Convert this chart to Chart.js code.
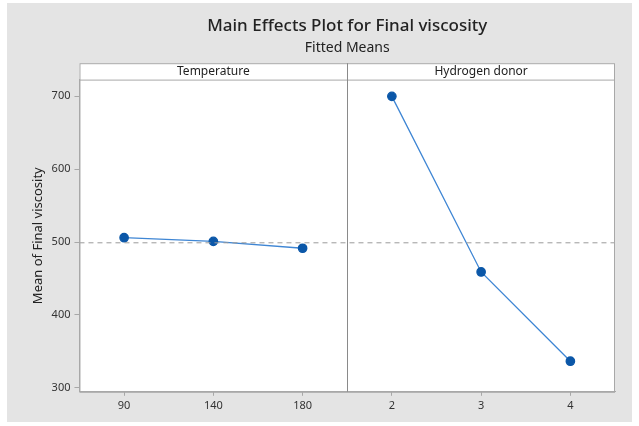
<!DOCTYPE html>
<html>
<head>
<meta charset="utf-8">
<script src="https://cdn.jsdelivr.net/npm/chart.js@4.4.1/dist/chart.umd.min.js"></script>
<style>
  html, body { margin: 0; padding: 0; background: #fff; }
  #wrap { position: relative; width: 639px; height: 426px; }
</style>
</head>
<body>
<div id="wrap"><canvas id="myChart" width="639" height="426"></canvas></div>
<script>
// data
const categories = ['90', '140', '180', '2', '3', '4'];
const factors = ['Temperature', 'Hydrogen donor'];
const temperatureMeans = [506, 501, 491.5, null, null, null];
const donorMeans = [null, null, null, 700, 459, 336.5];
const grandMean = 499;
const yTicks = [300, 400, 500, 600, 700];

const FONT = "'Noto Sans', 'Open Sans', sans-serif";
const LINE = '#3f86d4';
const DOT = '#0b57a8';

// gray panel, frame, header strip, divider and reference line
const minitabLook = {
    id: 'minitabLook',
    beforeDraw(chart) {
        const ctx = chart.ctx;
        ctx.save();
        ctx.fillStyle = '#fff';
        ctx.fillRect(0, 0, chart.width, chart.height);
        ctx.fillStyle = '#e4e4e4';
        ctx.fillRect(7, 3, chart.width - 14, chart.height - 7);
        const a = chart.chartArea;
        const top = chart.scales.x2;
        ctx.fillStyle = '#fff';
        ctx.fillRect(a.left, top.top, a.right - a.left, a.bottom - top.top);
        ctx.restore();
    },
    afterDatasetsDraw(chart) {
        const ctx = chart.ctx;
        const a = chart.chartArea;
        const x = chart.scales.x;
        const y = chart.scales.y;
        const top = chart.scales.x2;
        ctx.save();
        // mean line
        const ym = y.getPixelForValue(grandMean);
        ctx.strokeStyle = '#9a9a9a';
        ctx.lineWidth = 1;
        ctx.setLineDash([5, 4]);
        ctx.beginPath();
        ctx.moveTo(a.left, ym);
        ctx.lineTo(a.right, ym);
        ctx.stroke();
        ctx.setLineDash([]);
        // frame
        ctx.strokeStyle = '#a8a8a8';
        ctx.strokeRect(a.left + 0.5, top.top + 0.5, a.right - a.left - 1, a.bottom - top.top);
        ctx.beginPath();
        ctx.moveTo(a.left, a.top + 0.5);
        ctx.lineTo(a.right, a.top + 0.5);
        ctx.stroke();
        // panel divider
        const xd = Math.round((x.getPixelForValue(2) + x.getPixelForValue(3)) / 2) + 0.5;
        ctx.strokeStyle = '#8a8a8a';
        ctx.beginPath();
        ctx.moveTo(xd, top.top);
        ctx.lineTo(xd, a.bottom);
        ctx.stroke();
        ctx.restore();
    }
};

const ctx = document.getElementById('myChart').getContext('2d');
new Chart(ctx, {
    type: 'line',
    data: {
        labels: categories,
        datasets: [{
            label: factors[0],
            data: temperatureMeans,
            borderColor: LINE,
            borderWidth: 1.3,
            pointBackgroundColor: DOT,
            pointBorderColor: DOT,
            pointRadius: 4.2,
            spanGaps: false
        }, {
            label: factors[1],
            data: donorMeans,
            borderColor: LINE,
            borderWidth: 1.3,
            pointBackgroundColor: DOT,
            pointBorderColor: DOT,
            pointRadius: 4.2,
            spanGaps: false
        }]
    },
    options: {
        responsive: false,
        animation: false,
        layout: { padding: { left: 30, right: 24, top: 0, bottom: 11 } },
        plugins: {
            legend: { display: false },
            tooltip: { enabled: false },
            title: {
                display: true,
                fullSize: false,
                text: 'Main Effects Plot for Final viscosity',
                color: '#222',
                font: { family: FONT, size: 17, weight: '500' },
                padding: { top: 16, bottom: 2 }
            },
            subtitle: {
                display: true,
                fullSize: false,
                text: 'Fitted Means',
                color: '#222',
                font: { family: FONT, size: 14 },
                padding: { top: 1, bottom: 7 }
            }
        },
        scales: {
            x: {
                type: 'category',
                offset: true,
                grid: { drawOnChartArea: false, tickLength: 4, color: '#a8a8a8' },
                border: { color: '#a8a8a8' },
                ticks: { color: '#333', font: { family: FONT, size: 11 }, padding: 3 }
            },
            x2: {
                type: 'category',
                position: 'top',
                labels: factors,
                offset: true,
                grid: { display: false, drawTicks: false },
                border: { display: false },
                ticks: { color: '#222', font: { family: FONT, size: 12 }, padding: 1 }
            },
            y: {
                min: 294.5,
                max: 723,
                afterBuildTicks(scale) {
                    scale.ticks = yTicks.map(v => ({ value: v }));
                },
                grid: { drawOnChartArea: false, tickLength: 5, color: '#a8a8a8' },
                border: { color: '#a8a8a8' },
                ticks: { color: '#333', font: { family: FONT, size: 11 }, padding: 4 },
                title: {
                    display: true,
                    text: 'Mean of Final viscosity',
                    color: '#222',
                    font: { family: FONT, size: 13 },
                    padding: { top: 0, bottom: 2 }
                }
            }
        }
    },
    plugins: [minitabLook]
});
</script>
</body>
</html>
